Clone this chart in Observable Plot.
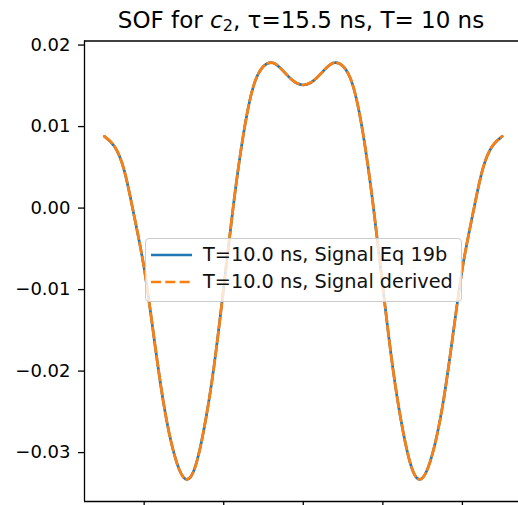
<!DOCTYPE html>
<html>
<head>
<meta charset="utf-8">
<script src="https://cdn.jsdelivr.net/npm/d3@7"></script>
<script src="https://cdn.jsdelivr.net/npm/@observablehq/plot@0.6"></script>
<style>
  html, body { margin: 0; padding: 0; background: #fff; overflow: hidden; }
  body { width: 518px; height: 505px; position: relative; font-family: "DejaVu Sans", sans-serif; color: #000; }
  #title { position: relative; height: 30px; box-sizing: border-box; padding-top: 9px; line-height: 22px; font-size: 23px; text-align: center; white-space: nowrap; margin-left: 84px; width: 434px; }
  #title sub { font-size: 0.7em; line-height: 0; vertical-align: -0.2em; }
  #chart svg { display: block; }
  #legend { position: absolute; left: 145px; top: 238px; width: 317px; height: 64px; box-sizing: border-box; border: 1px solid #cccccc; border-radius: 4px; background: rgba(255,255,255,0.8); font-size: 19.3px; color: #111; }
  #legend .row { position: absolute; left: 0; height: 24px; line-height: 24px; white-space: nowrap; }
  #legend svg { position: absolute; left: 4px; top: 0; }
  #legend span { position: absolute; left: 57px; top: 0; }
</style>
</head>
<body>
<div id="title">SOF for <i>c</i><sub>2</sub>, τ=15.5 ns, T= 10 ns</div>
<div id="chart"></div>
<div id="legend"></div>
<script>
// ---- data ----
const xValues = [
  -5.00, -4.75, -4.50, -4.25, -4.00, -3.75, -3.50, -3.25, -3.00, -2.75,
  -2.50, -2.25, -2.00, -1.75, -1.50, -1.25, -1.00, -0.75, -0.50, -0.25,
   0.00,
   0.25,  0.50,  0.75,  1.00,  1.25,  1.50,  1.75,  2.00,  2.25,  2.50,
   2.75,  3.00,  3.25,  3.50,  3.75,  4.00,  4.25,  4.50,  4.75,  5.00
];
const signalEq19b = [
  0.0088, 0.0076, 0.0046, -0.0010, -0.0074, -0.0160, -0.0243, -0.0301, -0.0331, -0.0322,
  -0.0272, -0.0196, -0.0097, 0.0006, 0.0092, 0.0150, 0.0174, 0.0178, 0.0168, 0.0156,
  0.0151,
  0.0156, 0.0168, 0.0178, 0.0174, 0.0150, 0.0092, 0.0006, -0.0097, -0.0196, -0.0272,
  -0.0322, -0.0331, -0.0301, -0.0243, -0.0160, -0.0074, -0.0010, 0.0046, 0.0076, 0.0088
];
const signalDerived = [
  0.0088, 0.0076, 0.0046, -0.0010, -0.0074, -0.0160, -0.0243, -0.0301, -0.0331, -0.0322,
  -0.0272, -0.0196, -0.0097, 0.0006, 0.0092, 0.0150, 0.0174, 0.0178, 0.0168, 0.0156,
  0.0151,
  0.0156, 0.0168, 0.0178, 0.0174, 0.0150, 0.0092, 0.0006, -0.0097, -0.0196, -0.0272,
  -0.0322, -0.0331, -0.0301, -0.0243, -0.0160, -0.0074, -0.0010, 0.0046, 0.0076, 0.0088
];
const seriesNames = ["T=10.0 ns, Signal Eq 19b", "T=10.0 ns, Signal derived"];
const seriesColors = ["#1f77b4", "#ff7f0e"];
const yTicks = [0.02, 0.01, 0.00, -0.01, -0.02, -0.03];
const xTicks = [-4, -2, 0, 2, 4];
const xDomain = [-5.5, 5.41];
const yDomain = [-0.0360, 0.0205];

const rowsA = xValues.map((x, i) => ({x, v: signalEq19b[i]}));
const rowsB = xValues.map((x, i) => ({x, v: signalDerived[i]}));

const lw = 2.7;
const dash = "10,4.3";

const chart = Plot.plot({
  width: 518,
  height: 475,
  marginLeft: 84,
  marginRight: 0,
  marginTop: 10.5,
  marginBottom: 4,
  style: {fontFamily: "DejaVu Sans", fontSize: "18px", color: "#000", background: "transparent", overflow: "visible"},
  x: {domain: xDomain, label: null},
  y: {domain: yDomain, label: null},
  marks: [
    Plot.line(rowsA, {x: "x", y: "v", stroke: seriesColors[0], strokeWidth: lw, curve: "natural"}),
    Plot.line(rowsB, {x: "x", y: "v", stroke: seriesColors[1], strokeWidth: lw, strokeDasharray: dash, curve: "natural"}),
    Plot.ruleX([xDomain[0]], {stroke: "#000", strokeWidth: 1.3}),
    Plot.ruleY([yDomain[1], yDomain[0]], {stroke: "#000", strokeWidth: 1.3}),
    Plot.axisY({ticks: yTicks, tickSize: 6, tickPadding: 8, tickFormat: d3.format(".2f"), label: null, strokeWidth: 1.3}),
    Plot.axisX({ticks: xTicks, tickSize: 6, fill: "none", label: null, strokeWidth: 1.3})
  ]
});
document.getElementById("chart").appendChild(chart);

// legend
const legend = d3.select("#legend");
const rowTops = [4, 31];
seriesNames.forEach((name, i) => {
  const row = legend.append("div").attr("class", "row").style("top", rowTops[i] + "px").style("width", "312px");
  const s = row.append("svg").attr("width", 44).attr("height", 24);
  s.append("line").attr("x1", 1).attr("x2", 42).attr("y1", 12).attr("y2", 12)
    .attr("stroke", seriesColors[i]).attr("stroke-width", lw)
    .attr("stroke-dasharray", i === 1 ? dash : null);
  row.append("span").text(name);
});
</script>
</body>
</html>
